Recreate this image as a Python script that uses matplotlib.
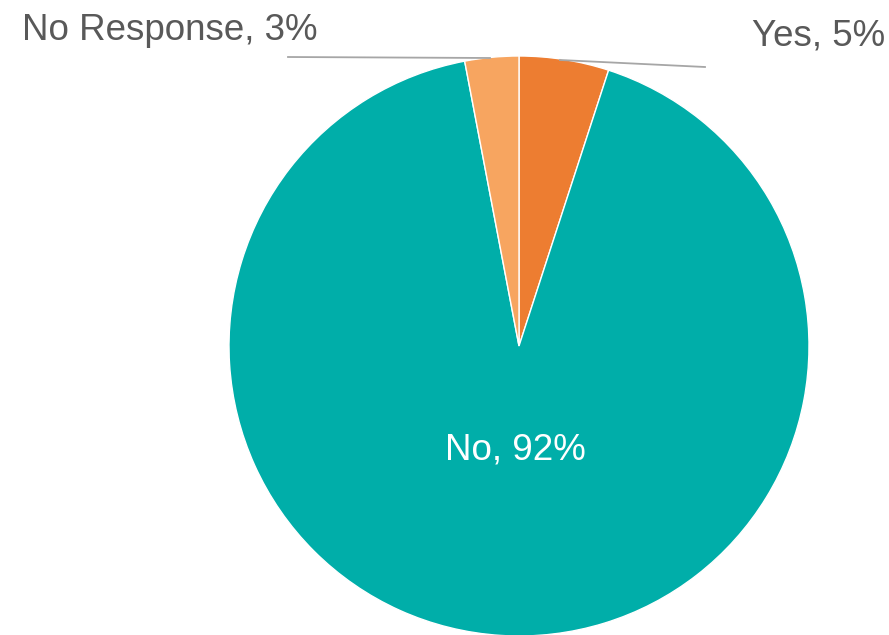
import matplotlib.pyplot as plt

labels = ['Yes', 'No', 'No Response']
shares = [5, 92, 3]
colors = ['#ED7D31', '#00AEA9', '#F7A560']

W, H = 889, 635
fig = plt.figure(figsize=(W / 100, H / 100), dpi=100)
ax = fig.add_axes([0, 0, 1, 1])
ax.set_xlim(0, W)
ax.set_ylim(0, H)
ax.set_aspect('equal')
ax.axis('off')

ax.pie(shares, colors=colors, startangle=90, counterclock=False,
       center=(519, H - 346), radius=290, frame=True,
       wedgeprops=dict(edgecolor='white', linewidth=1))
ax.set_xlim(0, W)
ax.set_ylim(0, H)
ax.axis('off')

font = dict(family='Liberation Sans', fontsize=26.5)

# leader lines for the two thin slices
ax.plot([288, 490], [H - 57, H - 58], color='#A6A6A6', lw=1.3, zorder=3)
ax.plot([560, 705], [H - 60, H - 67], color='#A6A6A6', lw=1.3, zorder=3)

ax.text(22, H - 40, f'{labels[2]}, {shares[2]}%', color='#595959', va='baseline', ha='left', **font)
ax.text(752, H - 45, f'{labels[0]}, {shares[0]}%', color='#595959', va='baseline', ha='left', **font)
ax.text(515, H - 460, f'{labels[1]}, {shares[1]}%', color='white', va='baseline', ha='center', **font)

fig.savefig('out.png', dpi=100)
